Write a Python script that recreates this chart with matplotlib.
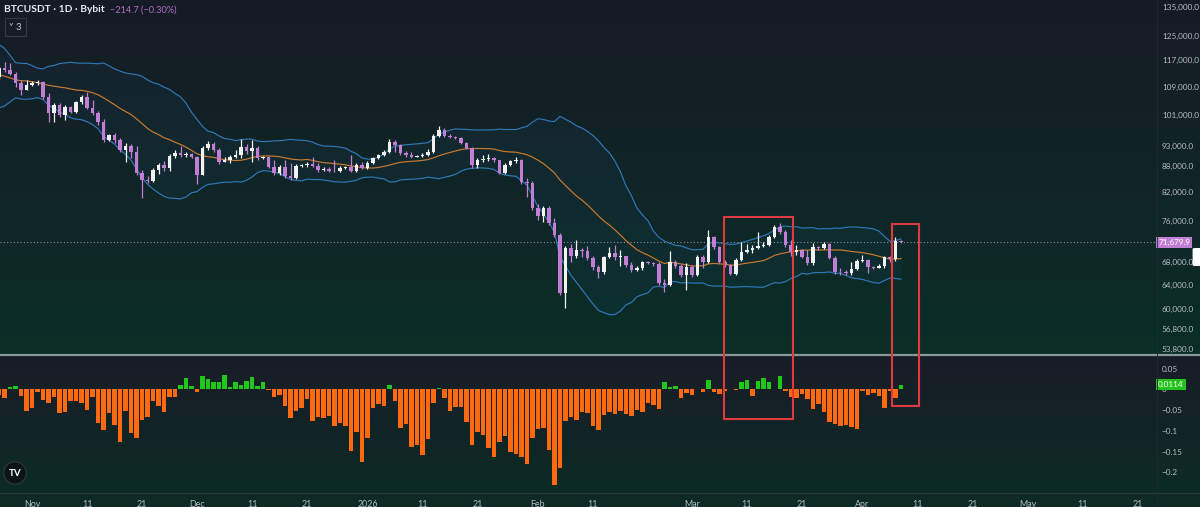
import numpy as np
import pandas as pd
import matplotlib
matplotlib.use('Agg')
from matplotlib import pyplot as plt
import matplotlib.dates as mdates
from matplotlib.colors import to_rgb
from matplotlib.lines import Line2D
from matplotlib.patches import Rectangle, FancyBboxPatch
from matplotlib.ticker import FixedLocator, NullLocator, FuncFormatter

plt.rcParams['font.family'] = ['Lato', 'DejaVu Sans']

# closes before the first visible candle (only used to warm up the 20-day bands)
warmup_close = [121400, 123300, 121700, 113200, 110700, 115200, 115300, 113100, 110800, 108200,
                106500, 107200, 108700, 110600, 108500, 107600, 110100, 111000, 111700]

# daily BTCUSDT candles, 2025-10-26 .. 2026-04-08 (open = previous close)
close = [114580, 113970, 112750, 110050, 108010, 109470,
         110050, 110350, 105990, 101540, 103740, 100990, 103180, 101810, 104580, 105990,
         102910, 101540, 99110, 94420, 95700, 94420, 91920, 92910, 91430, 86420,
         84810, 84580, 87120, 88290, 87590, 90460, 91190, 90700, 90940, 90220,
         85960, 92420, 93410, 91920, 89010, 89490, 90220, 90700, 92660, 91680,
         92420, 89980, 90220, 87820, 86420, 87820, 85730, 85270, 88060, 88290,
         88530, 88060, 87120, 87350, 86880, 86800, 87590, 87820, 86880, 88290, 87590,
         88770, 89980, 90700, 91430, 93920, 93160, 91190, 90700, 90220, 90460,
         90700, 91430, 95450, 96990, 95450, 95190, 94940, 93670, 92420, 88290,
         89490, 89740, 89980, 89490, 86420, 88290, 89250, 89490, 84350, 84130, 78650,
         76980, 78650, 75540, 73140, 62610, 70640, 69140, 70260, 70070, 68770,
         67130, 66230, 68950, 69700, 68950, 69140, 67490, 66590, 66950, 68030,
         67850, 67670, 64310, 63970, 68030, 67310, 65700, 67130,
         65700, 68950, 68030, 72750, 70830, 68030, 67490, 65880, 68400, 69880,
         70260, 70640, 71020, 71210, 72750, 74730, 73740, 71210, 69880, 70260,
         68950, 67850, 70830, 70640, 71400, 68770, 66230, 66150, 66060, 66770, 68220,
         68400, 67130, 66950, 67310, 68950, 68580, 71894.6, 71679.9]

high = [115200, 116440, 116130, 113360, 110940, 110940,
        110650, 110940, 110650, 107140, 104300, 104300, 103740, 103460, 104860, 106560,
        107430, 105140, 102080, 99910, 95960, 96220, 94940, 93670, 93410, 92910,
        87120, 85730, 87590, 88770, 89250, 90940, 91920, 92910, 91430, 91190,
        90460, 92910, 94170, 93920, 92420, 90220, 90700, 91920, 94680, 93410,
        94420, 92910, 90460, 90460, 89490, 88290, 89490, 88770, 88530, 88530,
        89010, 90220, 88770, 87820, 87820, 89490, 88060, 88060, 90700, 88770, 89010,
        89250, 90220, 90940, 91920, 94680, 94420, 93410, 91680, 91430, 90700,
        91190, 92170, 95960, 98050, 97520, 95960, 95450, 95190, 93920, 92660,
        89980, 90700, 90940, 90220, 89490, 88770, 89490, 90220, 89740, 85270, 84580,
        79490, 79070, 79070, 76560, 73540, 71020, 71400, 72170, 70640, 71020,
        69140, 67490, 69140, 70830, 71210, 70260, 69140, 68030, 67310, 68220,
        68220, 68030, 68030, 65000, 70070, 68400, 67670, 67850,
        67490, 69320, 69320, 74130, 72950, 71020, 68400, 67670, 68770, 71780,
        71400, 71210, 73740, 71780, 73140, 75140, 75540, 74130, 72170, 71210,
        70450, 70260, 71590, 71020, 71780, 71590, 69140, 66950, 66590, 68030, 68580,
        69320, 68580, 67310, 67670, 69140, 69140, 72750, 72170]

low = [110940, 113360, 112450, 108880, 106560, 108010,
       109170, 109470, 105430, 99110, 99110, 100450, 99640, 101540, 101540, 104020,
       102630, 100990, 98310, 93920, 94170, 93670, 91430, 89010, 89980, 85960,
       80780, 84130, 84350, 86190, 86880, 86880, 89980, 90220, 90220, 89980,
       83900, 85960, 91920, 91430, 88530, 89010, 88770, 89980, 89980, 90940,
       89010, 89490, 89740, 87590, 85960, 85960, 85270, 84810, 85040, 87820,
       87820, 87820, 86650, 86880, 86650, 86650, 86650, 87350, 86650, 86650, 87350,
       87350, 88530, 89740, 90460, 91190, 91430, 90700, 90220, 89980, 90220,
       90220, 90460, 91190, 95190, 95190, 94940, 94680, 93410, 92170, 87590,
       87590, 89010, 89250, 89010, 86190, 86190, 88060, 88770, 83900, 81000, 78230,
       76150, 75740, 75140, 72750, 62280, 60120, 68030, 68770, 68950, 68400,
       66590, 65180, 65880, 68770, 68400, 67310, 67130, 66230, 66410, 66590,
       67670, 67310, 63970, 62780, 63800, 66950, 65350, 63120,
       65350, 65530, 66950, 67850, 70450, 67850, 67130, 65700, 65700, 68220,
       69700, 69700, 70450, 70830, 71020, 72560, 73340, 70830, 69140, 69320,
       68770, 67490, 67490, 70260, 70450, 68580, 65880, 65700, 65700, 65700, 66590,
       68030, 66060, 66770, 66950, 66950, 68030, 68220, 71590]

# lower pane oscillator, one value per day
osc = [-0.013, -0.021, 0.005, 0.008, -0.016, -0.051, -0.045, -0.006, -0.025, -0.032,
       -0.017, -0.056, -0.055, -0.029, -0.029, -0.032, -0.050, -0.017, -0.080, -0.098,
       -0.056, -0.086, -0.128, -0.051, -0.104, -0.118, -0.074, -0.067, -0.027, -0.040,
       -0.054, -0.019, -0.019, 0.011, 0.027, 0.008, -0.005, 0.033, 0.025, 0.017,
       0.019, 0.034, 0.007, 0.019, 0.011, 0.021, 0.029, 0.008, 0.017, -0.001,
       -0.019, -0.013, -0.041, -0.070, -0.052, -0.045, -0.024, -0.075, -0.067, -0.070,
       -0.064, -0.087, -0.082, -0.087, -0.148, -0.102, -0.174, -0.116, -0.044, -0.035,
       -0.041, 0.011, -0.029, -0.094, -0.083, -0.140, -0.134, -0.158, -0.120, -0.032,
       0.003, -0.021, -0.051, -0.043, -0.043, -0.079, -0.134, -0.103, -0.110, -0.142,
       -0.162, -0.126, -0.112, -0.152, -0.156, -0.164, -0.180, -0.118, -0.096, -0.094,
       -0.145, -0.231, -0.190, -0.075, -0.067, -0.074, -0.054, -0.056, -0.088, -0.098,
       -0.062, -0.054, -0.059, -0.052, -0.058, -0.064, -0.050, -0.054, -0.032, -0.037,
       -0.048, 0.017, 0.007, 0.008, -0.020, -0.009, -0.013, 0.002, -0.005, 0.023,
       -0.006, -0.011, -0.003, 0.001, -0.002, 0.019, 0.023, -0.016, 0.021, 0.027,
       0.019, 0.001, 0.033, -0.003, -0.019, -0.021, -0.011, -0.024, -0.048, -0.035,
       -0.054, -0.078, -0.083, -0.088, -0.086, -0.091, -0.095, -0.003, -0.014, -0.008,
       -0.016, -0.044, -0.003, -0.021, 0.0114]

price_ticks = [135000, 125000, 117000, 109000, 101000, 93000, 88000, 82000, 76000,
               68000, 64000, 60000, 56800, 53800]
osc_ticks = [0.05, 0, -0.05, -0.1, -0.15, -0.2]
osc_labels = ['0.05', '0', '\u22120.05', '\u22120.1', '\u22120.15', '\u22120.2']
time_ticks = ['2025-11-01', '2025-11-11', '2025-11-21', '2025-12-01', '2025-12-11', '2025-12-21',
              '2026-01-01', '2026-01-11', '2026-01-21', '2026-02-01', '2026-02-11', '2026-03-01',
              '2026-03-11', '2026-03-21', '2026-04-01', '2026-04-11', '2026-04-21', '2026-05-01',
              '2026-05-11', '2026-05-21']
time_labels = ['Nov', '11', '21', 'Dec', '11', '21', '2026', '11', '21', 'Feb', '11', 'Mar',
               '11', '21', 'Apr', '11', '21', 'May', '11', '21']
# highlighted areas: (from, to, top price, bottom oscillator value)
boxes = [('2026-03-06 19:00', '2026-03-19 09:00', 76800, -0.071),
         ('2026-04-06 09:00', '2026-04-11 06:00', 75300, -0.040)]

dates = pd.date_range('2025-10-26', periods=len(close), freq='D')
opens = [warmup_close[-1]] + close[:-1]

# Bollinger bands 20, 2
full = pd.Series(warmup_close + close, dtype=float)
basis = full.rolling(20).mean()
dev = full.rolling(20).std(ddof=0)
n0 = len(warmup_close)
bb_mid = basis.values[n0:]
bb_up = (basis + 2 * dev).values[n0:]
bb_lo = (basis - 2 * dev).values[n0:]

W, H = 1200, 507
fig = plt.figure(figsize=(W / 100, H / 100), dpi=100)


def grad(c1, c2, n):
    a = np.array(to_rgb(c1))
    b = np.array(to_rgb(c2))
    t = np.linspace(0, 1, n)[:, None]
    return a + (b - a) * t


bg = np.vstack([grad('#161b25', '#0a2e27', 355),
                grad('#191c27', '#0c2b25', 138),
                grad('#0d2a25', '#0d2a25', 14)])
bgax = fig.add_axes([0, 0, 1, 1], zorder=-10)
bgax.imshow(bg[:, None, :], aspect='auto', extent=[0, 1, 0, 1])
bgax.axis('off')

pane_w = 1157 / W
ax1 = fig.add_axes([0, 1 - 354 / H, pane_w, 354 / H])
ax2 = fig.add_axes([0, 14 / H, pane_w, (493 - 355) / H])
for ax in (ax1, ax2):
    ax.set_facecolor('none')
    for s in ax.spines.values():
        s.set_visible(False)

# candles
o = np.array(opens, dtype=float)
c = np.array(close, dtype=float)
hi = np.array(high, dtype=float)
lo = np.array(low, dtype=float)
col = np.where(c >= o, '#f2f2f2', '#c27ed4')
ax1.vlines(dates, lo, hi, colors=col, lw=0.9, zorder=3)
body_h = np.maximum(np.abs(c - o), c * 0.002)
ax1.bar(dates, body_h, bottom=np.minimum(o, c), width=0.72, color=col, zorder=4)

# bands
ax1.fill_between(dates, bb_lo, bb_up, color='#2a8ad8', alpha=0.05, lw=0, zorder=1)
ax1.plot(dates, bb_up, color='#2f78b8', lw=0.85, zorder=2)
ax1.plot(dates, bb_lo, color='#2f78b8', lw=0.85, zorder=2)
ax1.plot(dates, bb_mid, color='#c97a30', lw=0.85, zorder=2)
ax1.axhline(close[-1], color='#8d8fa0', lw=0.8, ls=(0, (1, 2)), zorder=1)

x0 = mdates.date2num(dates[0])
for ax in (ax1, ax2):
    ax.set_xlim(x0 + 0.18, x0 + 210.55)

ax1.set_yscale('log')
ax1.set_ylim(53110, 137560)
ax1.yaxis.set_major_locator(FixedLocator(price_ticks))
ax1.yaxis.set_minor_locator(NullLocator())
ax1.yaxis.set_major_formatter(FuncFormatter(lambda v, p: f'{v:,.1f}'))
ax1.yaxis.tick_right()
ax1.tick_params(axis='y', length=0, pad=3.5, labelsize=5.9, labelcolor='#b8bbc3')
ax1.set_xticks([])

# oscillator
ocol = np.where(np.array(osc) >= 0, '#1fc81a', '#ff6a10')
ax2.bar(dates, osc, width=0.8, color=ocol, zorder=3)
ax2.set_ylim(-0.25, 0.0833)
ax2.set_yticks(osc_ticks)
ax2.set_yticklabels(osc_labels)
ax2.yaxis.tick_right()
ax2.tick_params(axis='y', length=0, pad=3.5, labelsize=5.9, labelcolor='#b8bbc3')
ax2.set_xticks(pd.to_datetime(time_ticks))
ax2.set_xticklabels(time_labels)
ax2.tick_params(axis='x', length=0, pad=5, labelsize=6.4, labelcolor='#b8bbc3')

# value badges
ax1.text(1.001, close[-1], f'{close[-1]:,.1f}', transform=ax1.get_yaxis_transform(),
         color='white', fontsize=5.9, va='center', ha='left', zorder=10,
         bbox=dict(boxstyle='square,pad=0.25', fc='#c27ed4', ec='none'))
ax2.text(1.001, osc[-1], f'{osc[-1]:.4f}', transform=ax2.get_yaxis_transform(),
         color='white', fontsize=5.9, va='center', ha='left', zorder=10,
         bbox=dict(boxstyle='square,pad=0.25', fc='#22c31a', ec='none'))

# separators
fig.add_artist(Line2D([0, 1], [1 - 354.5 / H] * 2, transform=fig.transFigure, color='#8a979c', lw=1.6))
fig.add_artist(Line2D([0, 1], [1 - 493 / H] * 2, transform=fig.transFigure, color='#2a3a3a', lw=0.8))
fig.add_artist(Line2D([pane_w] * 2, [0, 1], transform=fig.transFigure, color='#1f2a30', lw=0.6))

# red highlight boxes spanning both panes
inv = fig.transFigure.inverted()
for d0, d1, top, bot in boxes:
    xa = mdates.date2num(pd.Timestamp(d0))
    xb = mdates.date2num(pd.Timestamp(d1))
    p_top = inv.transform(ax1.transData.transform((xa, top)))
    p_bot = inv.transform(ax2.transData.transform((xb, bot)))
    fig.add_artist(Rectangle((p_top[0], p_bot[1]), p_bot[0] - p_top[0], p_top[1] - p_bot[1],
                             transform=fig.transFigure, fill=False, ec='#e0393e', lw=1.5, zorder=20))

# header
fig.text(4 / W, 1 - 10 / H, 'BTCUSDT \u00b7 1D \u00b7 Bybit', color='#e6e8ee', fontsize=7.4,
         fontweight='bold', va='center')
fig.text(110 / W, 1 - 10 / H, '\u2212214.7 (\u22120.30%)', color='#b46fc6', fontsize=6.6, va='center')
fig.text(9 / W, 1 - 27 / H, '\u02c5 3', color='#c0c3ca', fontsize=7, va='center',
         bbox=dict(boxstyle='square,pad=0.45', fc='none', ec='#363a45', lw=0.8))
fig.text(15 / W, 1 - 473 / H, 'TV', ha='center', va='center', fontsize=7, fontweight='bold',
         color='white', bbox=dict(boxstyle='circle,pad=0.5', fc='#0d1418', ec='#3a3e48', lw=0.6))
fig.add_artist(FancyBboxPatch((1195 / W, 1 - 265 / H), 6 / W, 16 / H, boxstyle='round,pad=0.002',
                              transform=fig.transFigure, fc='white', ec='none'))

fig.savefig('out.png', dpi=100)
